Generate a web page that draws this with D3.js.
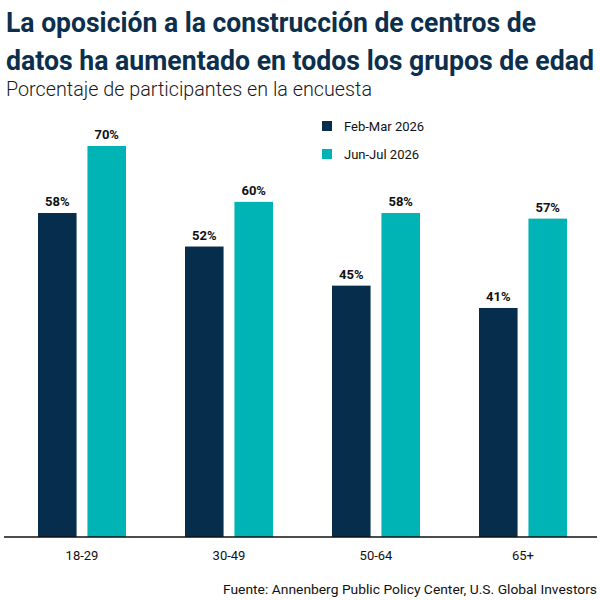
<!DOCTYPE html>
<html>
<head>
<meta charset="utf-8">
<script src="https://cdn.jsdelivr.net/npm/d3@7"></script>
<style>
  body { margin: 0; background: #fff; }
  svg { display: block; }
</style>
</head>
<body>
<div id="chart"></div>
<script>
// データ
const groups = ['18-29', '30-49', '50-64', '65+'];
const seriesNames = ['Feb-Mar 2026', 'Jun-Jul 2026'];
const febMar = [58, 52, 45, 41];
const junJul = [70, 60, 58, 57];
const seriesColors = ['#062d4c', '#00b3b5'];

const W = 600, H = 600;
const baseY = 537;
const font = 'Roboto, "Liberation Sans", sans-serif';

const svg = d3.select('#chart').append('svg')
    .attr('width', W)
    .attr('height', H);

// タイトル（縦方向に少し伸ばしてコンデンス体に近づける）
const titleLines = [
    'La oposición a la construcción de centros de',
    'datos ha aumentado en todos los grupos de edad'
];
const titleWidths = [530, 588];
titleLines.forEach((t, i) => {
    svg.append('g')
        .attr('transform', `translate(6,${32 + i * 38}) scale(1,1.17)`)
        .append('text')
        .attr('x', 0)
        .attr('y', 0)
        .attr('fill', '#0b2f4d')
        .attr('font-family', font)
        .attr('font-weight', 700)
        .attr('font-size', 24)
        .attr('textLength', titleWidths[i])
        .attr('lengthAdjust', 'spacingAndGlyphs')
        .text(t);
});

svg.append('text')
    .attr('x', 6)
    .attr('y', 96)
    .attr('fill', '#1a1a1a')
    .attr('font-family', font)
    .attr('font-weight', 300)
    .attr('font-size', 20)
    .attr('textLength', 366)
    .attr('lengthAdjust', 'spacingAndGlyphs')
    .text('Porcentaje de participantes en la encuesta');

// スケール
const x0 = d3.scaleBand()
    .domain(groups)
    .range([8.5, 596.5]);

const x1 = d3.scaleBand()
    .domain(seriesNames)
    .range([29.5, 117.5])
    .paddingInner(0.22);

const y = d3.scaleLinear()
    .domain([0, 70])
    .range([baseY, 146]);

const rows = groups.map((g, i) => ({
    group: g,
    values: [
        { key: seriesNames[0], value: febMar[i], color: seriesColors[0] },
        { key: seriesNames[1], value: junJul[i], color: seriesColors[1] }
    ]
}));

// バー
const gGroups = svg.selectAll('.grp')
    .data(rows)
    .enter()
    .append('g')
    .attr('class', 'grp')
    .attr('transform', d => `translate(${x0(d.group)},0)`);

gGroups.selectAll('rect')
    .data(d => d.values)
    .enter()
    .append('rect')
    .attr('x', d => x1(d.key))
    .attr('y', d => y(d.value))
    .attr('width', x1.bandwidth())
    .attr('height', d => baseY - y(d.value))
    .attr('fill', d => d.color);

gGroups.selectAll('.val')
    .data(d => d.values)
    .enter()
    .append('text')
    .attr('class', 'val')
    .attr('x', d => x1(d.key) + x1.bandwidth() / 2)
    .attr('y', d => y(d.value) - 7)
    .attr('text-anchor', 'middle')
    .attr('fill', '#111')
    .attr('font-family', font)
    .attr('font-weight', 700)
    .attr('font-size', 13)
    .text(d => d.value + '%');

// X軸
const xAxis = svg.append('g')
    .attr('transform', `translate(0,${baseY})`)
    .call(d3.axisBottom(x0).tickSize(0).tickPadding(14));
xAxis.select('.domain')
    .attr('d', 'M4,0H597')
    .attr('stroke', '#111')
    .attr('stroke-width', 1.5);
xAxis.selectAll('text')
    .attr('fill', '#111')
    .attr('font-family', font)
    .attr('font-size', 13);

// 凡例
const legend = svg.append('g')
    .attr('transform', 'translate(322,121)');
seriesNames.forEach((name, i) => {
    const item = legend.append('g')
        .attr('transform', `translate(0,${i * 28})`);
    item.append('rect')
        .attr('width', 10)
        .attr('height', 10)
        .attr('fill', seriesColors[i]);
    item.append('text')
        .attr('x', 22)
        .attr('y', 10)
        .attr('fill', '#111')
        .attr('font-family', font)
        .attr('font-size', 13)
        .text(name);
});

// 出典
svg.append('text')
    .attr('x', 597)
    .attr('y', 594)
    .attr('text-anchor', 'end')
    .attr('fill', '#111')
    .attr('font-family', font)
    .attr('font-size', 13)
    .attr('textLength', 374)
    .attr('lengthAdjust', 'spacingAndGlyphs')
    .text('Fuente: Annenberg Public Policy Center, U.S. Global Investors');
</script>
</body>
</html>
